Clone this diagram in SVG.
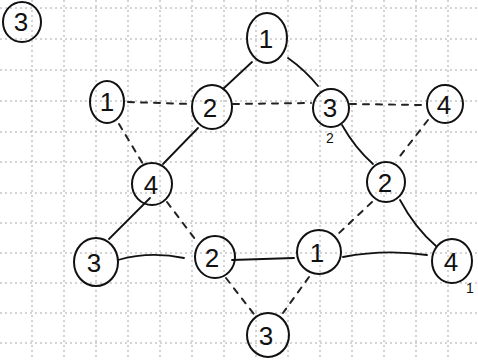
<svg xmlns="http://www.w3.org/2000/svg" width="478" height="360" viewBox="0 0 478 360">
<style>
.grid line{stroke:#a8a8a8;stroke-width:1;stroke-dasharray:2 3}
.node ellipse{fill:none;stroke:#111;stroke-width:2}
.node text,.lbl{font-family:"Liberation Sans",Arial,sans-serif;font-size:26px;fill:#111;text-anchor:middle}
.lbl{font-size:14px}
.solid path{fill:none;stroke:#111;stroke-width:1.8;stroke-linecap:round}
.dash path{fill:none;stroke:#222;stroke-width:2;stroke-dasharray:6 7;stroke-linecap:round}
</style>
<rect width="478" height="360" fill="#fff"/>
<g class="grid">
<line x1="32" y1="0" x2="32" y2="360"/><line x1="64" y1="0" x2="64" y2="360"/><line x1="96" y1="0" x2="96" y2="360"/><line x1="128" y1="0" x2="128" y2="360"/><line x1="160" y1="0" x2="160" y2="360"/><line x1="192" y1="0" x2="192" y2="360"/><line x1="224" y1="0" x2="224" y2="360"/><line x1="256" y1="0" x2="256" y2="360"/><line x1="288" y1="0" x2="288" y2="360"/><line x1="320" y1="0" x2="320" y2="360"/><line x1="352" y1="0" x2="352" y2="360"/><line x1="384" y1="0" x2="384" y2="360"/><line x1="416" y1="0" x2="416" y2="360"/><line x1="448" y1="0" x2="448" y2="360"/>
<line x1="0" y1="8" x2="478" y2="8"/><line x1="0" y1="39" x2="478" y2="39"/><line x1="0" y1="70" x2="478" y2="70"/><line x1="0" y1="101" x2="478" y2="101"/><line x1="0" y1="132" x2="478" y2="132"/><line x1="0" y1="162" x2="478" y2="162"/><line x1="0" y1="193" x2="478" y2="193"/><line x1="0" y1="223" x2="478" y2="223"/><line x1="0" y1="253" x2="478" y2="253"/><line x1="0" y1="283" x2="478" y2="283"/><line x1="0" y1="313" x2="478" y2="313"/><line x1="0" y1="343" x2="478" y2="343"/>
</g>
<g id="connectors">
<g class="solid">
<path d="M252,62 L223,89"/>
<path d="M288,58 Q305,70 318,86"/>
<path d="M342,125 Q355,148 373,164"/>
<path d="M400,200 Q415,228 436,246"/>
<path d="M343,257 Q385,249 427,255"/>
<path d="M232,260 L294,258"/>
<path d="M118,260 Q150,251 184,258"/>
<path d="M109,239 L150,198"/>
<path d="M163,164 L198,128"/>
</g>
<g class="dash">
<path d="M128,102 L190,104"/>
<path d="M233,104 L311,103"/>
<path d="M350,104 L422,105"/>
<path d="M428,120 L400,156"/>
<path d="M372,202 L337,235"/>
<path d="M309,277 L283,313"/>
<path d="M226,278 L257,318"/>
<path d="M167,202 L198,243"/>
<path d="M119,124 L143,164"/>
</g>
</g>
<g id="label-3" class="node"><ellipse cx="22" cy="22" rx="19" ry="20"/><text x="21" y="31">3</text></g>
<g id="n1-top" class="node"><ellipse cx="267" cy="38" rx="20" ry="25"/><text x="266" y="48">1</text></g>
<g id="n1-left" class="node"><ellipse cx="107" cy="102" rx="17" ry="21"/><text x="107" y="111">1</text></g>
<g id="n2-top" class="node"><ellipse cx="212" cy="107" rx="20" ry="22"/><text x="210" y="117">2</text></g>
<g id="n3-top" class="node"><ellipse cx="331" cy="108" rx="18" ry="19"/><text x="330" y="117">3</text></g>
<g id="n4-right" class="node"><ellipse cx="445" cy="104" rx="18" ry="19"/><text x="444" y="114">4</text></g>
<g id="n4-left" class="node"><ellipse cx="152" cy="184" rx="20" ry="21"/><text x="151" y="194">4</text></g>
<g id="n2-right" class="node"><ellipse cx="386" cy="182" rx="19" ry="20"/><text x="385" y="192">2</text></g>
<g id="n3-bl" class="node"><ellipse cx="96" cy="262" rx="22" ry="24"/><text x="94" y="272">3</text></g>
<g id="n2-bm" class="node"><ellipse cx="215" cy="257" rx="20" ry="21"/><text x="212" y="267">2</text></g>
<g id="n1-bm" class="node"><ellipse cx="319" cy="252" rx="22" ry="22"/><text x="317" y="262">1</text></g>
<g id="n4-br" class="node"><ellipse cx="452" cy="261" rx="20" ry="22"/><text x="451" y="271">4</text></g>
<g id="n3-b" class="node"><ellipse cx="268" cy="335" rx="21" ry="22"/><text x="266" y="345">3</text></g>
<text class="lbl" x="330" y="143">2</text>
<text class="lbl" x="470" y="293">1</text>
</svg>
